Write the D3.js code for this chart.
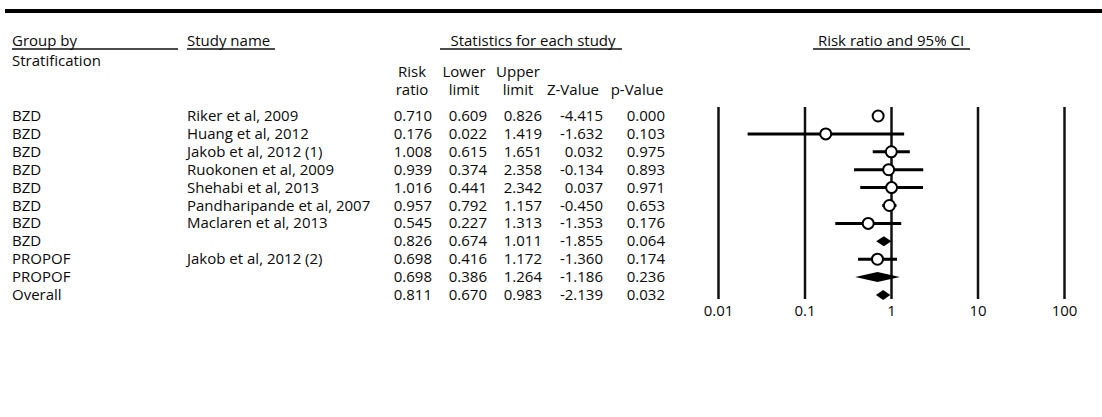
<!DOCTYPE html>
<html lang="en">
<head>
    <meta charset="UTF-8">
    <title>Forest plot</title>
    <script src="https://d3js.org/d3.v7.min.js"></script>
    <style>
        body { margin: 0; background: #fff; }
        text { font-family: "Open Sans", sans-serif; font-size: 15px; fill: #0a0a0a; }
    </style>
</head>
<body>
    <svg class="svgs" width="1102" height="417"></svg>
    <script>
        const groups = ['BZD', 'BZD', 'BZD', 'BZD', 'BZD', 'BZD', 'BZD', 'BZD', 'PROPOF', 'PROPOF', 'Overall']
        const studies = ['Riker et al, 2009', 'Huang et al, 2012', 'Jakob et al, 2012 (1)', 'Ruokonen et al, 2009',
            'Shehabi et al, 2013', 'Pandharipande et al, 2007', 'Maclaren et al, 2013', '', 'Jakob et al, 2012 (2)', '', '']
        const riskRatio = [0.710, 0.176, 1.008, 0.939, 1.016, 0.957, 0.545, 0.826, 0.698, 0.698, 0.811]
        const lowerLimit = [0.609, 0.022, 0.615, 0.374, 0.441, 0.792, 0.227, 0.674, 0.416, 0.386, 0.670]
        const upperLimit = [0.826, 1.419, 1.651, 2.358, 2.342, 1.157, 1.313, 1.011, 1.172, 1.264, 0.983]
        const zValue = [-4.415, -1.632, 0.032, -0.134, 0.037, -0.450, -1.353, -1.855, -1.360, -1.186, -2.139]
        const pValue = [0.000, 0.103, 0.975, 0.893, 0.971, 0.653, 0.176, 0.064, 0.174, 0.236, 0.032]
        const isSummary = [false, false, false, false, false, false, false, true, false, true, true]
        const tickValues = [0.01, 0.1, 1, 10, 100]
        const tickLabels = ['0.01', '0.1', '1', '10', '100']

        const rows = groups.map((g, i) => ({
            group: g, study: studies[i], rr: riskRatio[i], lo: lowerLimit[i], hi: upperLimit[i],
            z: zValue[i], p: pValue[i], summary: isSummary[i], id: i
        }))

        const svg = d3.select('.svgs')
        // plain hyphen for negatives, like the original table
        const locale = d3.formatLocale({ decimal: '.', thousands: ',', grouping: [3], currency: ['', ''], minus: '-' })
        const fmt = locale.format('.3f')

        const yScale = d3.scaleLinear().domain([0, rows.length - 1]).range([116, 295])
        const xScale = d3.scaleLog().domain([0.01, 100]).range([718, 1064])

        // top rule
        svg.append('line').attr('x1', 5).attr('x2', 1102).attr('y1', 11).attr('y2', 11)
            .attr('stroke', '#000').attr('stroke-width', 4)

        // headers
        const head = svg.append('g')
        const underlined = [
            { t: 'Group by', x: 12, anchor: 'start', u: [12, 178] },
            { t: 'Study name', x: 187, anchor: 'start', u: [187, 275] },
            { t: 'Statistics for each study', x: 533, anchor: 'middle', u: [440, 622] },
            { t: 'Risk ratio and 95% CI', x: 891, anchor: 'middle', u: [813, 970] }
        ]
        underlined.forEach(h => {
            head.append('text').attr('x', h.x).attr('y', 46).attr('text-anchor', h.anchor).text(h.t)
            head.append('line').attr('x1', h.u[0]).attr('x2', h.u[1]).attr('y1', 49).attr('y2', 49)
                .attr('stroke', '#111').attr('stroke-width', 1.5)
        })
        head.append('text').attr('x', 12).attr('y', 66).text('Stratification')

        const colRight = [432, 487, 542, 603, 665]
        const colHeads = [['Risk', 'ratio'], ['Lower', 'limit'], ['Upper', 'limit'], ['', 'Z-Value'], ['', 'p-Value']]
        const colCenters = [412, 464, 518, 573, 637]
        colHeads.forEach((c, k) => {
            head.append('text').attr('x', colCenters[k]).attr('y', 77).attr('text-anchor', 'middle').text(c[0])
            head.append('text').attr('x', colCenters[k]).attr('y', 95).attr('text-anchor', 'middle').text(c[1])
        })

        // table rows
        const table = svg.append('g')
        const rowG = table.selectAll('g').data(rows).enter().append('g')
            .attr('transform', d => `translate(0,${yScale(d.id) + 5})`)
        rowG.append('text').attr('x', 12).text(d => d.group)
        rowG.append('text').attr('x', 187).text(d => d.study)
        const cols = [d => d.rr, d => d.lo, d => d.hi, d => d.z, d => d.p]
        cols.forEach((f, k) => {
            rowG.append('text').attr('x', colRight[k]).attr('text-anchor', 'end').text(d => fmt(f(d)))
        })

        // axis with full-height reference lines
        const axisTop = 107, axisBottom = 299
        const axis = d3.axisBottom(xScale)
            .tickValues(tickValues)
            .tickFormat((d, i) => tickLabels[i])
            .tickSizeInner(-(axisBottom - axisTop))
            .tickSizeOuter(0)
            .tickPadding(6)
        const axisG = svg.append('g').attr('transform', `translate(0,${axisBottom})`).call(axis)
        axisG.select('.domain').remove()
        axisG.selectAll('.tick line').attr('stroke', '#111').attr('stroke-width', 2.5)
        axisG.selectAll('.tick text').attr('font-size', 16.5).attr('font-family', '"Open Sans", sans-serif').attr('fill', '#0a0a0a')

        // marks
        const plot = svg.append('g')
        const studyRows = rows.filter(d => !d.summary)
        const sumRows = rows.filter(d => d.summary)

        plot.selectAll('line.ci').data(studyRows).enter().append('line')
            .attr('class', 'ci')
            .attr('x1', d => xScale(d.lo)).attr('x2', d => xScale(d.hi))
            .attr('y1', d => yScale(d.id)).attr('y2', d => yScale(d.id))
            .attr('stroke', '#000').attr('stroke-width', 3)

        plot.selectAll('circle').data(studyRows).enter().append('circle')
            .attr('cx', d => xScale(d.rr)).attr('cy', d => yScale(d.id)).attr('r', 5.5)
            .attr('fill', '#fff').attr('stroke', '#000').attr('stroke-width', 2)

        plot.selectAll('path.diamond').data(sumRows).enter().append('path')
            .attr('class', 'diamond')
            .attr('d', d => {
                const y = yScale(d.id)
                return `M${xScale(d.lo)},${y} L${xScale(d.rr)},${y - 5} L${xScale(d.hi)},${y} L${xScale(d.rr)},${y + 5} Z`
            })
            .attr('fill', '#000')
    </script>
</body>
</html>
